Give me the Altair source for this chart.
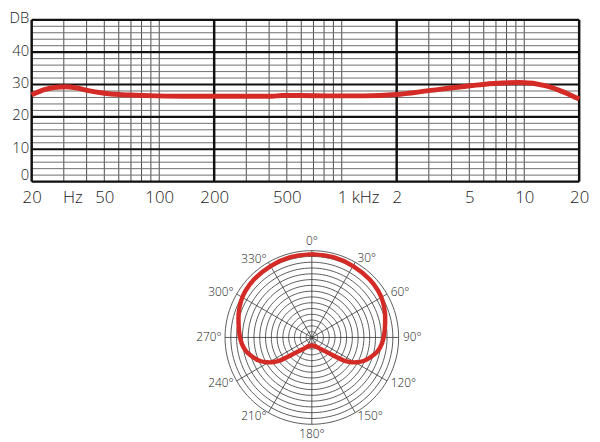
import altair as alt
import pandas as pd

FONT = "Open Sans"

# ---------------- Frequency response (top panel) ----------------
freq_hz = [20, 23.5, 26.6, 30.7, 34.8, 40.9, 49, 60.6, 74, 98, 137, 200, 300, 416, 470,
           580, 877, 1320, 1990, 3000, 4530, 6830, 9440, 13190, 16870, 20000]
level_db = [26.8, 28.4, 29.1, 29.3, 29.0, 28.1, 27.4, 26.9, 26.7, 26.5, 26.4, 26.4, 26.4, 26.4, 26.6,
            26.6, 26.5, 26.5, 26.9, 28.1, 29.3, 30.3, 30.6, 29.6, 27.4, 25.5]

major_freq = [20, 200, 2000, 20000]
minor_freq = [30, 40, 50, 60, 70, 80, 90, 100,
              300, 400, 500, 600, 700, 800, 900, 1000,
              3000, 4000, 5000, 6000, 7000, 8000, 9000, 10000]
major_db = [0, 10, 20, 30, 40, 50]
minor_db = [2, 4, 6, 8, 12, 14, 16, 18, 22, 24, 26, 28, 32, 34, 36, 38, 42, 44, 46, 48]

x_tick_values = [20, 33.4, 50, 100, 200, 500, 1230, 2000, 5000, 10000, 20000]
x_tick_labels = ["20", "Hz", "50", "100", "200", "500", "1 kHz", "2", "5", "10", "20"]
y_tick_values = [0, 10, 20, 30, 40, 50]
y_tick_labels = ["0", "10", "20", "30", "40", "DB"]

# ---------------- Polar pattern (bottom panel) ----------------
# radius in ring units (15 rings = outer circle), angle in degrees clockwise from top
polar_angle = [0, 15, 30, 45, 55, 63, 71, 79, 88, 95, 102, 108, 114, 119, 123, 126, 128, 131, 135,
               141, 150, 160, 170, 180, 190, 200, 210, 219, 225, 229, 232, 234, 237, 241, 246,
               252, 258, 265, 272, 281, 289, 297, 305, 315, 330, 345, 360]
polar_radius = [14.4, 14.35, 14.25, 14.15, 14.0, 13.75, 13.35, 12.9, 12.5, 12.15, 11.6, 10.8, 9.9,
                8.85, 7.8, 6.75, 5.7, 4.5, 3.5, 2.7, 2.0, 1.6, 1.45, 1.4, 1.45, 1.6, 2.0, 2.7, 3.5,
                4.5, 5.7, 6.75, 7.8, 8.85, 9.9, 10.8, 11.6, 12.15, 12.5, 12.9, 13.35, 13.75, 14.0,
                14.15, 14.25, 14.35, 14.4]
ring_step = [1, 2, 3, 4, 5, 6, 7, 8, 9, 10, 11, 12, 13, 14, 15]
spoke_angle = [0, 30, 60, 90, 120, 150, 180, 210, 240, 270, 300, 330]
spoke_label = ["0°", "30°", "60°", "90°", "120°", "150°", "180°", "210°", "240°", "270°", "300°", "330°"]
circle_angle = list(range(0, 361, 3))

OUTER = 15


def label_expr(values, labels):
    expr = "datum.label"
    for v, l in reversed(list(zip(values, labels))):
        expr = f"datum.value == {v} ? '{l}' : ({expr})"
    return expr


# ---------- top panel ----------
freq_df = pd.DataFrame({"freq": freq_hz, "db": level_db})
xs = alt.Scale(type="log", domain=[20, 20000], nice=False)
ys = alt.Scale(domain=[0, 50], nice=False, zero=False)

x_axis = alt.Axis(
    values=x_tick_values, labelExpr=label_expr(x_tick_values, x_tick_labels),
    ticks=False, tickSize=0, domain=False, grid=False, labelFlush=False,
    labelOverlap=False, labelFontSize=17, labelFont=FONT, labelFontWeight=300,
    labelColor="#1a1a1a", labelPadding=8, title=None)
y_axis = alt.Axis(
    values=y_tick_values, labelExpr=label_expr(y_tick_values, y_tick_labels),
    ticks=False, tickSize=0, domain=False, grid=False, labelFlush=False,
    labelOverlap=False, labelFontSize=15, labelFont=FONT, labelFontWeight=300,
    labelColor="#1a1a1a", labelPadding=3, labelOffset=-2,
    labelBaseline=alt.condition("datum.value == 0", alt.value("alphabetic"), alt.value("middle")),
    title=None)

XF = alt.X("freq:Q", scale=xs, axis=x_axis)
YD = alt.Y("db:Q", scale=ys, axis=y_axis)

minor_v = alt.Chart(pd.DataFrame({"freq": minor_freq})).mark_rule(
    color="#4a4a4a", strokeWidth=1).encode(x=XF)
minor_h = alt.Chart(pd.DataFrame({"db": minor_db})).mark_rule(
    color="#6e6e6e", strokeWidth=1).encode(y=YD)
major_h = alt.Chart(pd.DataFrame({"db": major_db})).mark_rule(
    color="#111111", strokeWidth=2.2).encode(y=YD)
major_v = alt.Chart(pd.DataFrame({"freq": major_freq})).mark_rule(
    color="#111111", strokeWidth=2.5).encode(x=XF)

response = alt.Chart(freq_df).mark_line(
    color="#d52b27", strokeWidth=5, interpolate="monotone").encode(x=XF, y=YD)

top = alt.layer(minor_v, minor_h, major_h, major_v, response)

# ---------- polar panel ----------
px = alt.Scale(domain=[-OUTER, OUTER], range=[196, 372], nice=False, zero=False)
py = alt.Scale(domain=[-OUTER, OUTER], range=[410, 234], nice=False, zero=False)
PXE = lambda f: alt.X(f, scale=px, axis=None)
PYE = lambda f: alt.Y(f, scale=py, axis=None)

ring_df = pd.DataFrame([(r, a) for r in ring_step for a in circle_angle], columns=["ring", "ang"])
rings = alt.Chart(ring_df).transform_calculate(
    cx="datum.ring * sin(datum.ang * PI / 180)",
    cy="datum.ring * cos(datum.ang * PI / 180)",
).mark_line(color="#333333", strokeWidth=0.8).encode(
    x=PXE("cx:Q"), y=PYE("cy:Q"), detail="ring:N", order="ang:Q",
)

spokes = alt.Chart(pd.DataFrame({"ang": spoke_angle})).transform_calculate(
    x0="0", y0="0",
    sx=f"{OUTER} * sin(datum.ang * PI / 180)",
    sy=f"{OUTER} * cos(datum.ang * PI / 180)",
).mark_rule(color="#333333", strokeWidth=0.8).encode(
    x=PXE("x0:Q"), y=PYE("y0:Q"), x2="sx:Q", y2="sy:Q",
)

pattern_df = pd.DataFrame({"ang": polar_angle, "r": polar_radius, "idx": range(len(polar_angle))})
pattern = alt.Chart(pattern_df).transform_calculate(
    cx="datum.r * sin(datum.ang * PI / 180)",
    cy="datum.r * cos(datum.ang * PI / 180)",
).mark_line(color="#d52b27", strokeWidth=4.5, interpolate="catmull-rom").encode(
    x=PXE("cx:Q"), y=PYE("cy:Q"), order="idx:Q",
)

label_df = pd.DataFrame({"ang": spoke_angle, "lab": spoke_label})


def label_layer(filter_expr, radius, align):
    return alt.Chart(label_df).transform_filter(filter_expr).transform_calculate(
        lx=f"{radius} * sin(datum.ang * PI / 180)",
        ly=f"{radius} * cos(datum.ang * PI / 180)",
    ).mark_text(font=FONT, fontSize=12, fontWeight=300, color="#222222",
                align=align, baseline="middle").encode(
        x=PXE("lx:Q"), y=PYE("ly:Q"), text="lab:N",
    )


labels_c = label_layer("datum.ang == 0 || datum.ang == 180", OUTER * 1.11, "center")
labels_r = label_layer("datum.ang > 0 && datum.ang < 180", OUTER * 1.05, "left")
labels_l = label_layer("datum.ang > 180", OUTER * 1.04, "right")

polar = alt.layer(rings, spokes, pattern, labels_c, labels_r, labels_l)

chart = alt.layer(top, polar).resolve_scale(
    x="independent", y="independent"
).properties(
    width=555, height=164,
    autosize=alt.AutoSizeParams(type="none"),
    padding={"left": 24, "top": 9, "right": 13, "bottom": 261},
).configure_view(strokeWidth=0).configure(background="white")

chart.save("out.html", embed_options={"renderer": "svg", "actions": False})
